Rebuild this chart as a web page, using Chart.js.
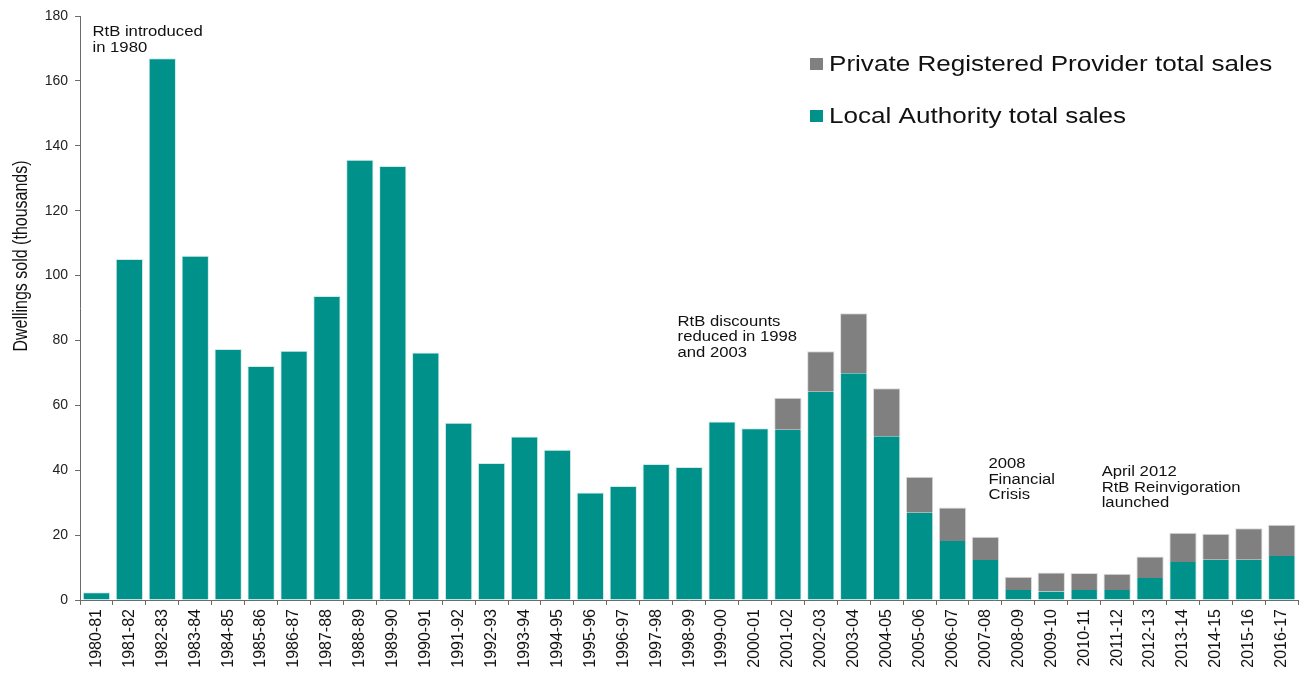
<!DOCTYPE html>
<html>
<head>
<meta charset="utf-8">
<script src="https://cdn.jsdelivr.net/npm/chart.js@4.4.1/dist/chart.umd.min.js"></script>
<style>
    html, body { margin: 0; padding: 0; background: #fff; }
    #wrap { width: 1305px; height: 673px; }
</style>
</head>
<body>
<div id="wrap"><canvas id="rtbChart" width="1305" height="673"></canvas></div>
<script>
const years = ['1980-81', '1981-82', '1982-83', '1983-84', '1984-85', '1985-86', '1986-87', '1987-88',
    '1988-89', '1989-90', '1990-91', '1991-92', '1992-93', '1993-94', '1994-95', '1995-96', '1996-97',
    '1997-98', '1998-99', '1999-00', '2000-01', '2001-02', '2002-03', '2003-04', '2004-05', '2005-06',
    '2006-07', '2007-08', '2008-09', '2009-10', '2010-11', '2011-12', '2012-13', '2013-14', '2014-15',
    '2015-16', '2016-17'];

// thousands of dwellings
const localAuthority = [2.4, 105.1, 167.0, 106.1, 77.4, 72.1, 76.8, 93.7, 135.7, 133.8, 76.3, 54.6,
    42.2, 50.4, 46.3, 33.1, 35.1, 41.9, 41.0, 55.0, 52.9, 52.5, 64.2, 69.9, 50.5, 26.9, 18.2, 12.3,
    3.1, 2.6, 3.1, 3.1, 6.8, 11.7, 12.4, 12.4, 13.6];
const privateProvider = [null, null, null, null, null, null, null, null, null, null, null, null,
    null, null, null, null, null, null, null, null, null, 9.8, 12.5, 18.5, 14.8, 11.1, 10.3, 7.2,
    4.1, 5.9, 5.2, 5.0, 6.6, 9.0, 8.0, 9.7, 9.6];

const seriesNames = ['Local Authority total sales', 'Private Registered Provider total sales'];
const yTitle = 'Dwellings sold (thousands)';

// annotation text, anchored at (category position, value)
const noteLines = [
    ['RtB introduced', 'in 1980'],
    ['RtB discounts', 'reduced in 1998', 'and 2003'],
    ['2008', 'Financial', 'Crisis'],
    ['April 2012', 'RtB Reinvigoration', 'launched']
];
const noteAt = [0.38, 18.15, 27.59, 31.03];
const noteValue = [175.0, 85.7, 41.8, 39.4];

const TEAL = '#00918b';
const GREY = '#808080';
const FONT = "'Liberation Sans', Arial, sans-serif";

Chart.defaults.font.family = FONT;
Chart.defaults.color = '#1a1a1a';

// draws the notes, the legend and the y axis title
const extrasPlugin = {
    id: 'extras',
    afterDraw(chart) {
        const c = chart.ctx;
        const xs = chart.scales.x;
        const ys = chart.scales.y;
        const catW = (xs.right - xs.left) / years.length;
        c.save();
        c.fillStyle = '#111';
        c.textBaseline = 'middle';
        c.textAlign = 'left';

        // notes
        c.font = '14px ' + FONT;
        noteLines.forEach((lines, i) => {
            const px = xs.left + noteAt[i] * catW;
            const py = ys.getPixelForValue(noteValue[i]);
            lines.forEach((t, j) => {
                c.save();
                c.translate(px, py + j * 15.5);
                c.scale(1.19, 1);
                c.fillText(t, 0, 0);
                c.restore();
            });
        });

        // legend (top right)
        const legendRows = [
            { name: seriesNames[1], color: GREY },
            { name: seriesNames[0], color: TEAL }
        ];
        c.font = '22px ' + FONT;
        legendRows.forEach((row, i) => {
            const cy = 64 + i * 52;
            c.fillStyle = row.color;
            c.fillRect(810, cy - 6, 13, 12);
            c.fillStyle = '#111';
            c.save();
            c.translate(829, cy + 1);
            c.scale(1.185, 1);
            c.fillText(row.name, 0, 0);
            c.restore();
        });

        // y title
        c.font = '16px ' + FONT;
        c.textAlign = 'center';
        c.save();
        c.translate(21, 256);
        c.rotate(-Math.PI / 2);
        c.scale(1, 1.25);
        c.fillText(yTitle, 0, 0);
        c.restore();

        c.restore();
    }
};

const ctx = document.getElementById('rtbChart').getContext('2d');
const rtbChart = new Chart(ctx, {
    type: 'bar',
    data: {
        labels: years,
        datasets: [{
            label: seriesNames[0],
            data: localAuthority,
            backgroundColor: TEAL,
            borderColor: 'rgba(205, 232, 230, 0.9)',
            borderWidth: (c) => privateProvider[c.dataIndex]
                ? { top: 0, left: 1, right: 1, bottom: 0 }
                : { top: 1, left: 1, right: 1, bottom: 0 },
            borderSkipped: false,
            barPercentage: 0.83,
            categoryPercentage: 1.0
        }, {
            label: seriesNames[1],
            data: privateProvider,
            backgroundColor: GREY,
            borderColor: 'rgba(215, 215, 215, 0.9)',
            borderWidth: { top: 1, left: 1, right: 1, bottom: 0 },
            borderSkipped: false,
            barPercentage: 0.83,
            categoryPercentage: 1.0
        }]
    },
    options: {
        responsive: false,
        animation: false,
        layout: {
            padding: { top: 16, right: 3, bottom: 0, left: 0 }
        },
        plugins: {
            legend: { display: false },
            tooltip: { enabled: false }
        },
        scales: {
            x: {
                stacked: true,
                afterFit: (s) => { s.height = 73; },
                border: { display: true, color: '#6b6b6b', width: 1 },
                grid: {
                    display: true,
                    drawOnChartArea: false,
                    drawTicks: true,
                    tickLength: 5,
                    color: '#6b6b6b',
                    offset: true
                },
                ticks: {
                    autoSkip: false,
                    maxRotation: 90,
                    minRotation: 90,
                    padding: 4,
                    color: '#111',
                    font: { size: 16 }
                }
            },
            y: {
                stacked: true,
                min: 0,
                max: 180,
                afterFit: (s) => { s.width = 80; },
                border: { display: true, color: '#6b6b6b', width: 1 },
                grid: {
                    display: true,
                    drawOnChartArea: false,
                    drawTicks: true,
                    tickLength: 5,
                    color: '#6b6b6b'
                },
                ticks: {
                    stepSize: 20,
                    padding: 7,
                    color: '#222',
                    font: { size: 14 }
                }
            }
        }
    },
    plugins: [extrasPlugin]
});
</script>
</body>
</html>
